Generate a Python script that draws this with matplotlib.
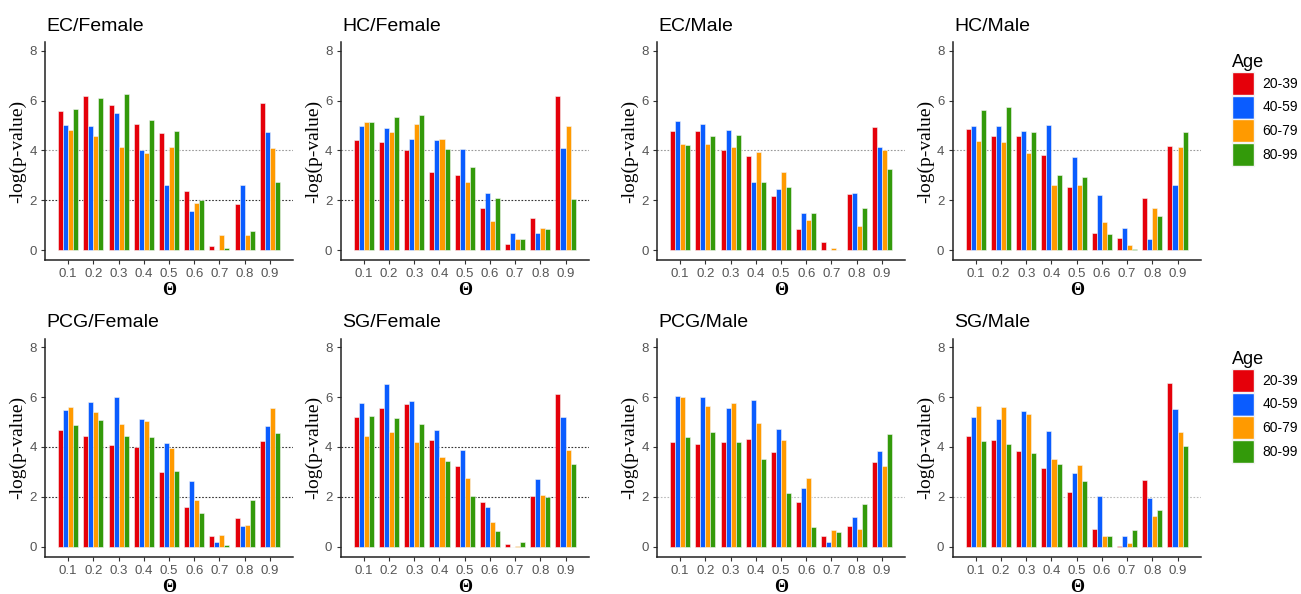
import numpy as np
import matplotlib.pyplot as plt
from matplotlib.patches import Patch

# Theta values and age groups
theta = ['0.1', '0.2', '0.3', '0.4', '0.5', '0.6', '0.7', '0.8', '0.9']
ages = ['20-39', '40-59', '60-79', '80-99']
colors = ['#e5000a', '#0a5cff', '#ff9a00', '#339a0a']

# -log(p-value), one list per age group (20-39, 40-59, 60-79, 80-99)
ec_female = [
    [5.60, 6.17, 5.84, 5.07, 4.71, 2.36, 0.15, 1.84, 5.91],
    [5.00, 4.97, 5.51, 4.01, 2.63, 1.57, 0.00, 2.60, 4.73],
    [4.80, 4.56, 4.15, 3.88, 4.12, 1.87, 0.60, 0.60, 4.09],
    [5.67, 6.12, 6.27, 5.23, 4.79, 1.99, 0.08, 0.77, 2.73],
]
hc_female = [
    [4.43, 4.35, 4.00, 3.13, 3.00, 1.70, 0.25, 1.27, 6.20],
    [4.96, 4.88, 4.47, 4.43, 4.07, 2.30, 0.70, 0.70, 4.10],
    [5.12, 4.75, 5.05, 4.47, 2.73, 1.17, 0.43, 0.87, 4.97],
    [5.15, 5.32, 5.40, 4.07, 3.33, 2.10, 0.43, 0.83, 2.03],
]
ec_male = [
    [4.77, 4.77, 4.03, 3.77, 2.15, 0.85, 0.32, 2.23, 4.93],
    [5.17, 5.07, 4.83, 2.73, 2.45, 1.48, 0.00, 2.27, 4.13],
    [4.27, 4.27, 4.13, 3.93, 3.13, 1.20, 0.10, 0.95, 4.03],
    [4.20, 4.57, 4.60, 2.73, 2.55, 1.48, 0.00, 1.67, 3.27],
]
hc_male = [
    [4.87, 4.59, 4.56, 3.81, 2.51, 0.68, 0.48, 2.07, 4.19],
    [4.99, 4.96, 4.79, 5.03, 3.73, 2.20, 0.88, 0.43, 2.60],
    [4.39, 4.32, 3.91, 2.60, 2.60, 1.12, 0.21, 1.67, 4.12],
    [5.63, 5.76, 4.75, 3.00, 2.93, 0.64, 0.05, 1.37, 4.72],
]
pcg_female = [
    [4.68, 4.45, 4.08, 4.01, 2.98, 1.58, 0.44, 1.16, 4.24],
    [5.50, 5.81, 6.00, 5.11, 4.16, 2.65, 0.19, 0.83, 4.82],
    [5.62, 5.38, 4.90, 5.02, 3.96, 1.85, 0.48, 0.88, 5.58],
    [4.88, 5.08, 4.45, 4.41, 3.05, 1.36, 0.08, 1.85, 4.55],
]
sg_female = [
    [5.20, 5.58, 5.71, 4.28, 3.22, 1.80, 0.10, 2.02, 6.13],
    [5.78, 6.51, 5.83, 4.66, 3.88, 1.60, 0.00, 2.72, 5.20],
    [4.45, 4.59, 4.19, 3.58, 2.75, 1.00, 0.03, 2.05, 3.88],
    [5.22, 5.15, 4.92, 3.45, 2.02, 0.63, 0.20, 2.00, 3.32],
]
pcg_male = [
    [4.18, 4.13, 4.18, 4.30, 3.80, 1.80, 0.43, 0.83, 3.38],
    [6.05, 6.02, 5.55, 5.88, 4.70, 2.33, 0.20, 1.17, 3.85],
    [6.02, 5.65, 5.75, 4.95, 4.27, 2.77, 0.67, 0.70, 3.22],
    [4.40, 4.60, 4.18, 3.52, 2.13, 0.80, 0.60, 1.72, 4.52],
]
sg_male = [
    [4.43, 4.29, 3.85, 3.17, 2.17, 0.71, 0.03, 2.67, 6.56],
    [5.19, 5.11, 5.44, 4.64, 2.97, 2.04, 0.41, 1.95, 5.53],
    [5.65, 5.61, 5.32, 3.53, 3.27, 0.41, 0.15, 1.24, 4.60],
    [4.23, 4.12, 3.75, 3.31, 2.63, 0.41, 0.68, 1.48, 4.03],
]

titles = ['EC/Female', 'HC/Female', 'EC/Male', 'HC/Male',
          'PCG/Female', 'SG/Female', 'PCG/Male', 'SG/Male']
panels = [ec_female, hc_female, ec_male, hc_male,
          pcg_female, sg_female, pcg_male, sg_male]
# reference lines: (y, colour)
dark, light = '#333333', '#999999'
ref_lines = [
    [(2, dark), (4, light)],
    [(2, dark), (4, light)],
    [(4, light)],
    [(4, light)],
    [(2, dark), (4, dark)],
    [(2, dark), (4, dark)],
    [(2, '#bbbbbb')],
    [(2, '#bbbbbb')],
]

fig = plt.figure(figsize=(13.01, 5.94), dpi=100)

col_left = [45, 340.7, 657, 952.7]
col_width = 248
row_bottom = [260, 556.5]
row_height = 218
W, H = 1301, 594

x = np.arange(1, 10)
bw = 0.2

for k in range(8):
    r, c = divmod(k, 4)
    ax = fig.add_axes([col_left[c] / W, 1 - row_bottom[r] / H,
                       col_width / W, row_height / H])
    for y, col in ref_lines[k]:
        ax.axhline(y, color=col, linestyle=(0, (1.5, 1.5)), linewidth=0.8, zorder=1)
    data = panels[k]
    for j in range(4):
        ax.bar(x + (j - 1.5) * bw, data[j], width=bw, color=colors[j],
               edgecolor='#f4f4f4', linewidth=0.4, zorder=2)
    ax.set_xlim(0.08, 9.92)
    ax.set_ylim(-0.4, 8.35)
    ax.set_xticks(x)
    ax.set_xticklabels(theta)
    ax.set_yticks([0, 2, 4, 6, 8])
    ax.tick_params(colors='#333333', labelcolor='#555555', labelsize=9.5,
                   length=3, width=0.8, pad=3)
    for lab in ax.get_xticklabels() + ax.get_yticklabels():
        lab.set_family('Liberation Sans')
    for s in ['top', 'right']:
        ax.spines[s].set_visible(False)
    for s in ['left', 'bottom']:
        ax.spines[s].set_linewidth(1.1)
        ax.spines[s].set_color('#222222')
    ax.set_title(titles[k], loc='left', fontsize=14, family='Liberation Sans',
                 pad=8, x=0.005)
    ax.set_xlabel('Θ', family='Liberation Serif', fontsize=13, fontweight='semibold',
                  labelpad=1.5)
    ax.set_ylabel('-log(p-value)', family='Liberation Serif', fontsize=14, labelpad=2)

handles = [Patch(facecolor=colors[j], edgecolor='#f4f4f4', label=ages[j]) for j in range(4)]
for yb in [0.918, 0.418]:
    leg = fig.legend(handles=handles, title='Age', loc='upper left',
                     bbox_to_anchor=(0.9425, yb), frameon=False,
                     prop={'family': 'Liberation Sans', 'size': 10},
                     title_fontproperties={'family': 'Liberation Sans', 'size': 13},
                     handlelength=1.6, handleheight=2.17,
                     handletextpad=0.6, labelspacing=0.05, borderaxespad=0)
    leg._legend_box.align = 'left'

fig.savefig('out.png', dpi=100)
